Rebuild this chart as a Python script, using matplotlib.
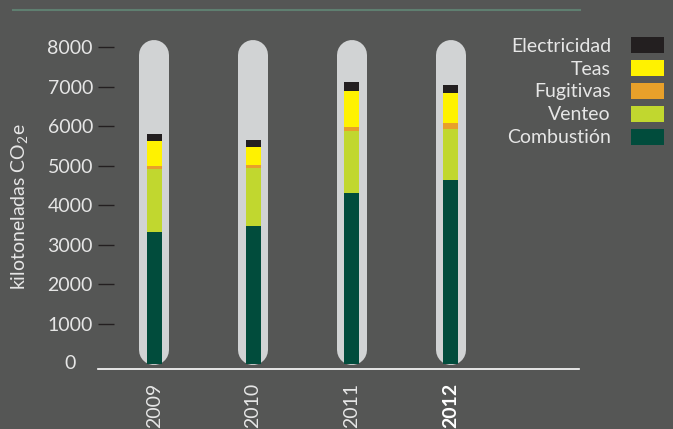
import numpy as np
import matplotlib
matplotlib.use("Agg")
import matplotlib.pyplot as plt
from matplotlib.lines import Line2D
from matplotlib.patches import Patch

years = ['2009', '2010', '2011', '2012']
combustion = [3330, 3470, 4300, 4630]
venteo = [1580, 1480, 1570, 1290]
fugitivas = [90, 70, 120, 160]
teas = [630, 460, 910, 750]
electricidad = [170, 170, 220, 210]

series = [
    ('Combustión', combustion, '#014c3c'),
    ('Venteo', venteo, '#c1d72f'),
    ('Fugitivas', fugitivas, '#e8a02a'),
    ('Teas', teas, '#fff200'),
    ('Electricidad', electricidad, '#231f20'),
]

bg = '#555655'
txt = '#e6e6e6'
fs = 14

plt.rcParams['font.family'] = ['Lato', 'DejaVu Sans']
plt.rcParams['mathtext.default'] = 'regular'

def main():
    fig = plt.figure(figsize=(6.73, 4.29), dpi=100, facecolor=bg)
    ax = fig.add_axes([98 / 673, 1 - 369 / 429, 481 / 673, 339 / 429])
    ax.set_facecolor(bg)

    x = np.arange(len(years))

    # grey capsule tracks behind each bar
    for xi in x:
        ax.plot([xi, xi], [345, 7800], color='#d1d3d4', lw=21.6,
                solid_capstyle='round', zorder=1)

    bottom = np.zeros(len(years))
    for name, vals, col in series:
        ax.bar(x, vals, width=0.152, bottom=bottom, color=col, zorder=2,
               label=name)
        bottom += np.array(vals)

    ax.set_xlim(-0.57, 4.30)
    ax.set_ylim(-136, 8431)

    for s in ['top', 'right', 'left']:
        ax.spines[s].set_visible(False)
    ax.spines['bottom'].set_color('white')
    ax.spines['bottom'].set_linewidth(1.2)

    ax.set_yticks(range(1000, 8001, 1000))
    ax.tick_params(axis='y', direction='in', length=11.5, width=1,
                   color='#231f20', labelcolor=txt, labelsize=fs, pad=3.6)
    ax.text(-0.058, 0, '0', transform=ax.get_yaxis_transform(), ha='center',
            va='center', color=txt, fontsize=fs)

    ax.set_xticks(x)
    ax.set_xticklabels(years, rotation=90, color=txt, fontsize=fs)
    ax.get_xticklabels()[-1].set_fontweight('bold')
    ax.get_xticklabels()[-1].set_color('white')
    ax.tick_params(axis='x', length=0, pad=10)

    ax.set_ylabel('kilotoneladas CO$_2$e', color=txt, fontsize=fs)
    ax.yaxis.set_label_coords(-0.141, 0.48)

    handles = [Patch(facecolor=col, edgecolor='none')
               for name, vals, col in series][::-1]
    labels = [name for name, vals, col in series][::-1]
    leg = ax.legend(handles, labels, loc='upper right',
                    bbox_to_anchor=(664 / 673, 1 - 37 / 429),
                    bbox_transform=fig.transFigure, frameon=False,
                    markerfirst=False, fontsize=fs, borderpad=0,
                    borderaxespad=0, handlelength=1.7, handleheight=0.88,
                    handletextpad=1.03, labelspacing=0.27)
    for t in leg.get_texts():
        t.set_color(txt)

    # thin line across the top
    fig.add_artist(Line2D([13 / 673, 580 / 673], [1 - 10 / 429, 1 - 10 / 429],
                          color='#5f7f70', lw=1.5, transform=fig.transFigure))

    fig.savefig('out.png', dpi=100, facecolor=bg)

if __name__ == "__main__":
    main()
